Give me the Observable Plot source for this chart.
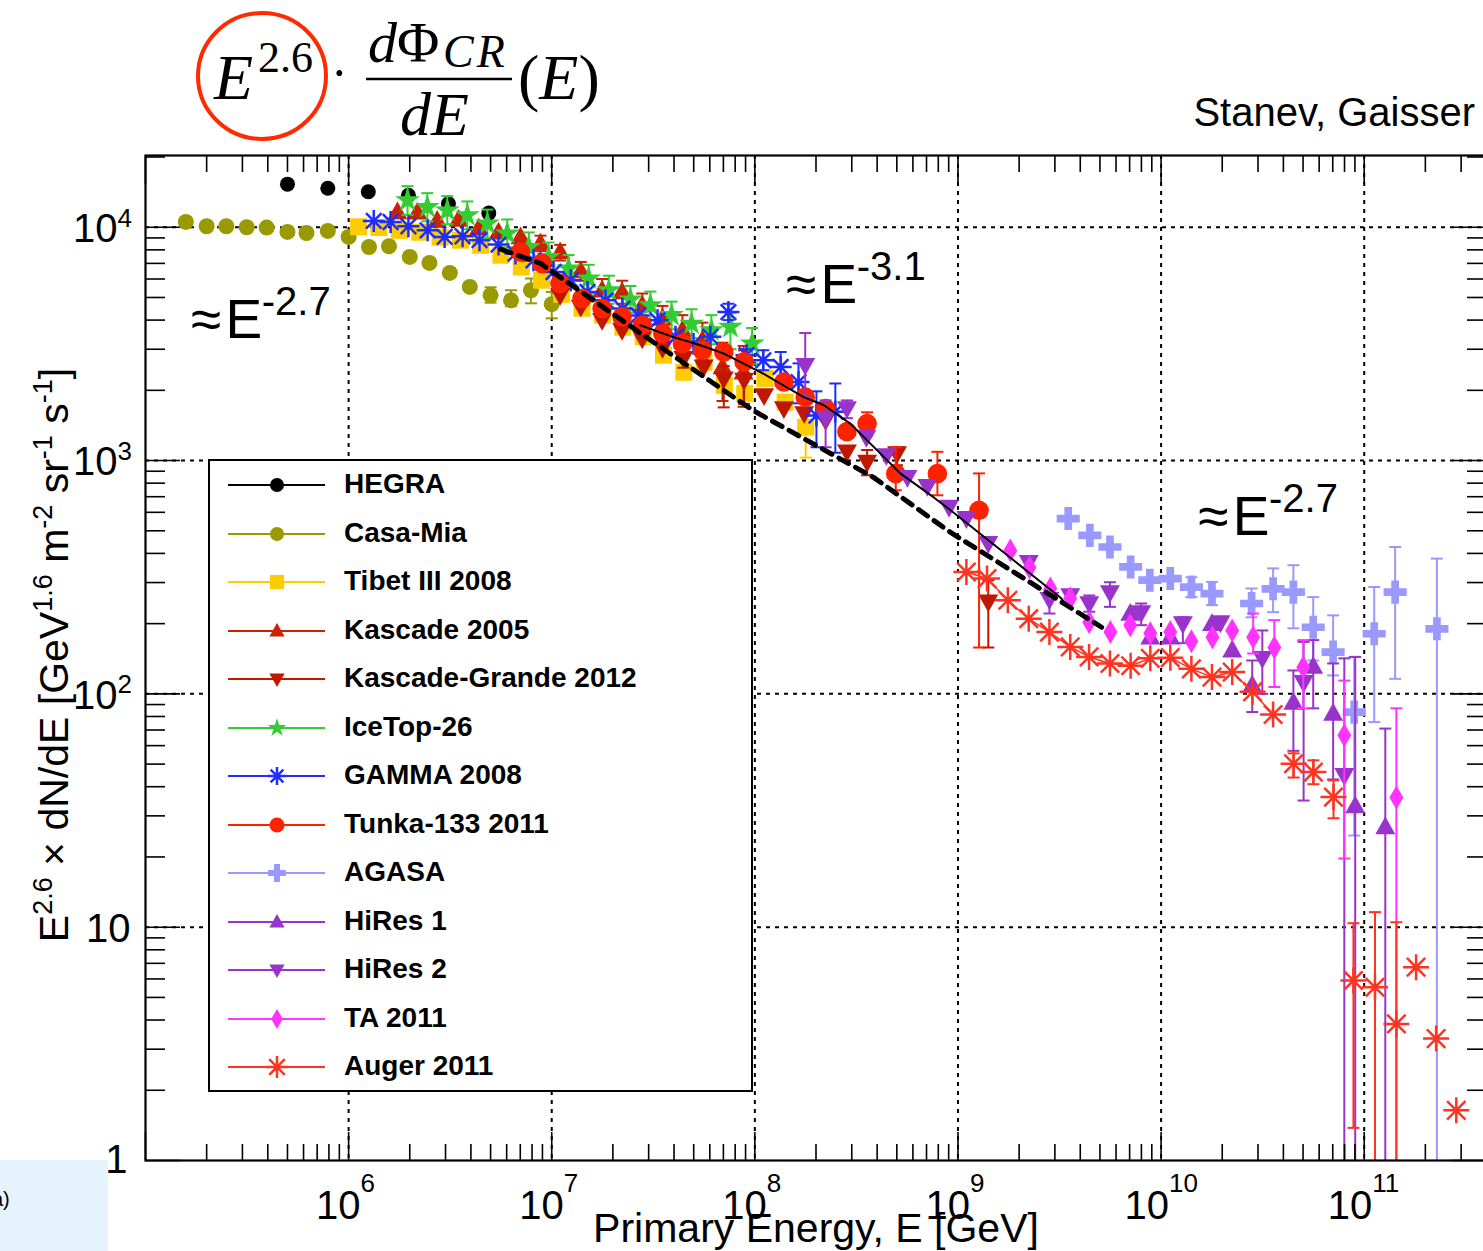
<!DOCTYPE html>
<html>
<head>
<meta charset="utf-8">
<script src="https://cdn.jsdelivr.net/npm/d3@7"></script>
<script src="https://cdn.jsdelivr.net/npm/@observablehq/plot@0.6"></script>
<style>
html, body { margin:0; padding:0; overflow:hidden; background:#fff; }
#page { position:relative; width:1483px; height:1251px; overflow:hidden; background:#fff; }
#hdr { position:absolute; left:0; top:0; }
#chart { position:absolute; left:0; top:150px; width:1500px; }
#chart svg { max-width:none !important; width:1500px; height:1101px; }
#ovl { position:absolute; left:0; top:0; pointer-events:none; }
#legend { position:absolute; left:208px; top:459px; width:545px; height:633px; box-sizing:border-box; border:2px solid #000; background:#fff; }
.lrow { position:absolute; left:0; height:30px; width:540px; }
.lrow svg { position:absolute; left:18px; top:0; }
.lrow span { position:absolute; left:134px; top:-1px; font: bold 28px "Liberation Sans", Arial, sans-serif; line-height:30px; color:#000; white-space:nowrap; }
#corner { position:absolute; left:0; top:1160px; width:108px; height:91px; background:#e4f3fc; }
#corner span { position:absolute; left:-8px; top:28px; font: 20px "Liberation Sans", Arial, sans-serif; color:#000; }
</style>
</head>
<body>
<div id="page">
  <svg id="hdr" width="1483" height="150">
    <ellipse cx="262" cy="76" rx="64" ry="63" fill="none" stroke="#ff2a00" stroke-width="4"/>
    <g font-family="'Liberation Serif', 'DejaVu Serif', serif" fill="#000">
      <text x="214" y="99" font-size="64" font-style="italic">E</text>
      <text x="258" y="72" font-size="44">2.6</text>
      <text x="331" y="90" font-size="50">·</text>
      <text x="368" y="62" font-size="58"><tspan font-style="italic">d</tspan>Φ</text>
      <text x="443" y="67" font-size="46" font-style="italic" letter-spacing="3">CR</text>
      <line x1="366" y1="79" x2="512" y2="79" stroke="#000" stroke-width="2.5"/>
      <text x="400" y="135" font-size="62" font-style="italic">dE</text>
      <text x="518" y="99" font-size="64">(<tspan font-style="italic">E</tspan>)</text>
    </g>
    <text x="1475" y="126" text-anchor="end" font-family="'Liberation Sans', Arial, sans-serif" font-size="40" fill="#000">Stanev, Gaisser</text>
  </svg>
  <div id="chart"></div>
  <svg id="ovl" width="1483" height="1251">
    <g font-family="'Liberation Sans', Arial, sans-serif" fill="#000">
      <text transform="translate(68,655) rotate(-90)" text-anchor="middle" font-size="41">E<tspan dy="-16" font-size="27">2.6</tspan><tspan dy="16">&#160;× dN/dE [GeV</tspan><tspan dy="-16" font-size="27">1.6</tspan><tspan dy="16">&#160;m</tspan><tspan dy="-16" font-size="27">-2</tspan><tspan dy="16">&#160;sr</tspan><tspan dy="-16" font-size="27">-1</tspan><tspan dy="16">&#160;s</tspan><tspan dy="-16" font-size="27">-1</tspan><tspan dy="16">]</tspan></text>
      <text x="816" y="1242" text-anchor="middle" font-size="41">Primary Energy, E [GeV]</text>
    </g>
  </svg>
  <div id="legend"></div>
  <div id="corner"><span>a)</span></div>
</div>
<script>
// ---------------- DATA (E in GeV, flux E^2.6 dN/dE, optional [lo, hi] error) ----------------
const hegra = [[5.0e5,1.53e4],[7.9e5,1.47e4],[1.25e6,1.42e4],[1.97e6,1.37e4],[3.1e6,1.26e4],[4.9e6,1.15e4]];
const casaMia = [[1.58e5,1.054e4],[2.0e5,1.01e4],[2.5e5,1.01e4],[3.15e5,1.0e4],[3.95e5,9.97e3],[5.0e5,9.55e3],[6.2e5,9.45e3],[7.9e5,9.64e3],[1.0e6,9.09e3],[1.26e6,8.23e3],[1.58e6,8.29e3],[2.0e6,7.46e3],[2.5e6,7.03e3],[3.15e6,6.37e3],[3.95e6,5.55e3],[5.0e6,5.11e3,4.75e3,5.53e3],[6.3e6,4.86e3,4.59e3,5.37e3],[7.9e6,5.37e3,4.72e3,6.03e3],[1.0e7,4.68e3,4.07e3,5.28e3]];
const tibet = [[1.12e6,1.005e4],[1.41e6,9.97e3],[1.78e6,9.7e3],[2.24e6,9.52e3],[2.82e6,9.06e3],[3.55e6,8.8e3],[4.47e6,8.37e3],[5.62e6,7.59e3],[7.08e6,6.76e3],[8.91e6,5.93e3],[1.12e7,5.16e3],[1.41e7,4.5e3],[1.78e7,4.2e3],[2.24e7,3.73e3],[2.82e7,3.39e3],[3.55e7,2.83e3],[4.47e7,2.39e3],[5.62e7,2.64e3],[7.08e7,2.1e3],[8.91e7,1.94e3],[1.12e8,2.25e3],[1.41e8,1.78e3],[1.78e8,1.39e3,1.03e3,1.55e3]];
const kascade = [[1.74e6,1.163e4],[2.18e6,1.16e4],[2.73e6,1.07e4],[3.48e6,1.08e4],[4.37e6,9.9e3],[5.47e6,9.52e3],[7.02e6,9.09e3],[8.8e6,8.54e3,7.9e3,9.2e3],[1.1e7,7.84e3,7.2e3,8.4e3],[1.39e7,6.5e3,5.9e3,7.1e3],[1.77e7,5.37e3,4.8e3,6.0e3],[2.22e7,5.28e3,4.7e3,5.9e3],[2.79e7,4.63e3,4.1e3,5.2e3],[3.51e7,4.07e3,3.6e3,4.6e3],[4.4e7,3.62e3,3.1e3,4.2e3],[5.52e7,3.28e3,2.7e3,3.9e3],[6.93e7,2.52e3,1.8e3,3.2e3],[8.8e7,2.39e3,1.7e3,3.1e3]];
const kascadeGrande = [[1.1e7,5.11e3],[1.39e7,4.55e3],[1.77e7,3.99e3],[2.22e7,3.62e3],[2.79e7,3.33e3],[3.51e7,3.03e3],[4.45e7,2.74e3,2.5e3,3.0e3],[5.6e7,2.52e3],[7.03e7,2.24e3,1.69e3,2.54e3],[8.85e7,2.21e3,1.75e3,2.97e3],[1.11e8,1.9e3],[1.39e8,1.67e3],[1.75e8,1.59e3],[2.23e8,1.49e3],[2.84e8,1.09e3],[3.57e8,986,865,1.11e3],[5.01e8,1.07e3,955,1.14e3],[1.41e9,248,158,307]];
const iceTop = [[1.95e6,1.305e4,1.13e4,1.5e4],[2.44e6,1.22e4,1.06e4,1.4e4],[3.06e6,1.18e4,1.03e4,1.36e4],[3.84e6,1.126e4,9.8e3,1.29e4],[4.82e6,1.037e4,9.0e3,1.19e4],[6.04e6,9.4e3,8.2e3,1.08e4],[7.71e6,8.23e3,7.2e3,9.5e3],[9.64e6,7.46e3,6.5e3,8.6e3],[1.21e7,6.65e3,5.8e3,7.6e3],[1.52e7,6.03e3,5.2e3,6.9e3],[1.91e7,5.37e3,4.7e3,6.2e3],[2.44e7,4.9e3,4.3e3,5.6e3],[3.06e7,4.63e3,4.0e3,5.3e3],[3.89e7,4.2e3,3.65e3,4.8e3],[4.88e7,3.86e3,3.35e3,4.45e3],[6.11e7,3.62e3,3.15e3,4.2e3],[7.58e7,3.74e3,3.0e3,4.3e3],[9.7e7,3.17e3,2.6e3,3.7e3]];
const gamma = [[1.33e6,1.064e4],[1.61e6,1.053e4],[1.97e6,1.01e4],[2.45e6,9.7e3],[2.97e6,9.09e3],[3.64e6,9.15e3],[4.41e6,8.8e3],[5.47e6,8.43e3],[6.63e6,7.71e3],[8.13e6,7.22e3],[1.02e7,6.43e3],[1.24e7,5.93e3],[1.5e7,5.28e3],[1.84e7,4.86e3],[2.23e7,4.48e3],[2.67e7,4.19e3],[3.32e7,3.99e3],[4.07e7,3.39e3],[4.99e7,3.17e3],[6.04e7,3.39e3],[7.41e7,4.33e3,4.0e3,4.7e3],[9.1e7,2.83e3,2.65e3,3.0e3],[1.10e8,2.69e3,2.44e3,2.97e3],[1.34e8,2.52e3,2.1e3,2.92e3],[1.64e8,2.17e3,1.76e3,2.61e3],[2.01e8,1.56e3,1.14e3,1.98e3],[2.49e8,1.62e3,1.08e3,2.14e3]];
const tunka = [[7.02e6,7.84e3],[8.97e6,6.99e3],[1.1e7,5.74e3],[1.41e7,4.95e3],[1.77e7,4.48e3],[2.22e7,4.13e3],[2.79e7,3.8e3],[3.52e7,3.5e3],[4.4e7,3.17e3],[5.52e7,2.97e3],[7.03e7,2.92e3],[8.85e7,2.65e3],[1.39e8,2.17e3],[1.77e8,1.87e3],[2.23e8,1.67e3],[2.84e8,1.33e3],[3.57e8,1.44e3,1.28e3,1.61e3],[4.94e8,879,746,1.14e3],[7.92e8,879,710,1.09e3],[1.27e9,612,158,881]];
const agasa = [[3.49e9,564],[4.46e9,478],[5.6e9,426],[7.08e9,350],[8.8e9,307],[1.11e10,312],[1.41e10,287,260,316],[1.78e10,269,240,302],[2.79e10,244,213,283],[3.56e10,282,224,345],[4.48e10,273,191,356],[5.61e10,193,139,260],[7.03e10,151,120,217],[8.93e10,83.5,24.7,144],[1.12e11,181,75.7,287],[1.42e11,273,116,426],[2.28e11,190,0.5,380]];
const hires1 = [[7.05e9,221],[8.85e9,175],[1.11e10,175],[1.78e10,200],[2.24e10,154],[2.81e10,109,83.6,139],[4.48e10,92,57,126],[5.61e10,131,86.7,170],[7.03e10,82.5,43,135],[9.03e10,33.1,0.5,144],[1.27e11,26.9,0.5,71]];
const hires2 = [[1.77e8,2.56e3,1.87e3,3.52e3],[2.23e8,1.52e3,1.14e3,1.81e3],[2.84e8,1.67e3,1.52e3,1.81e3],[3.54e8,1.26e3],[4.44e8,1.05e3],[5.64e8,848],[7.07e8,776],[9.04e8,631],[1.1e9,565],[1.41e9,442],[2.23e9,366],[2.82e9,254,221,278],[3.57e9,264],[4.43e9,244,225,264],[5.6e9,272,236,301],[7.98e9,223,197,244],[1.28e10,200,165,213],[1.96e10,202],[3.15e10,142,100,187],[5.03e10,112,34.9,167],[7.98e10,44.7,0.5,142]];
const ta = [[1.81e9,412],[2.25e9,348],[2.85e9,283],[3.57e9,257],[4.43e9,203],[5.63e9,184],[7.05e9,197],[8.85e9,182],[1.11e10,184],[1.41e10,168],[1.79e10,175],[2.24e10,187],[2.84e10,175,149,221],[3.61e10,158,107,207],[5.01e10,130,86.7,170],[7.98e10,66.4,19.7,114],[1.44e11,36,0.5,86.7]];
const auger = [[1.1e9,333],[1.39e9,312],[1.76e9,252],[2.23e9,210],[2.82e9,184],[3.57e9,159],[4.42e9,144],[5.6e9,135],[7.08e9,132],[8.85e9,142],[1.11e10,143],[1.41e10,128],[1.78e10,118],[2.24e10,124],[2.82e10,102],[3.56e10,81.6],[4.49e10,50.2,43.8,55.6],[5.62e10,46.2,41,51.9],[7.06e10,36.1,29.3,42.6],[8.85e10,5.91,1.38,10.4],[1.13e11,5.53,0.5,11.6],[1.44e11,3.85,0.5,10.5],[1.8e11,6.74],[2.26e11,3.33],[2.84e11,1.64]];
const kneeFitSolid = [[2.73e7,3.8e3],[3.97e7,3.38e3],[5.4e7,3.12e3],[7.0e7,2.88e3],[1.07e8,2.39e3],[1.74e8,1.87e3],[2.18e8,1.73e3],[2.95e8,1.44e3],[5.2e8,881],[7.6e8,695],[9.2e8,612],[3.19e9,259],[3.45e9,239]];
const kneeFitDashed = [[5.6e6,8.05e3],[8.8e6,7.0e3],[2.74e7,3.51e3],[9.8e7,1.64e3],[3.84e8,847],[9.2e8,492],[5.1e9,193]];

const seriesNames = ["HEGRA","Casa-Mia","Tibet III 2008","Kascade 2005","Kascade-Grande 2012","IceTop-26","GAMMA 2008","Tunka-133 2011","AGASA","HiRes 1","HiRes 2","TA 2011","Auger 2011"];
const seriesData = [hegra, casaMia, tibet, kascade, kascadeGrande, iceTop, gamma, tunka, agasa, hires1, hires2, ta, auger];
const augerLinePoints = 16;

const xTickLabels = [{E:1e6,exp:"6"},{E:1e7,exp:"7"},{E:1e8,exp:"8"},{E:1e9,exp:"9"},{E:1e10,exp:"10"},{E:1e11,exp:"11"}];
const yTickLabels = [{v:1e4,base:"10",exp:"4"},{v:1e3,base:"10",exp:"3"},{v:1e2,base:"10",exp:"2"},{v:10,base:"10",exp:""},{v:1,base:"1",exp:""}];
const annotations = [{E:1.67e5,v:3.99e3,exp:"-2.7"},{E:1.42e8,v:5.64e3,exp:"-3.1"},{E:1.52e10,v:571,exp:"-2.7"}];

// ---------------- STYLE ----------------
const X0 = 1e5, X1 = 4e11, Y0 = 1, Y1 = 2.03e4;
const triUp = {draw(ctx,size){const r=Math.sqrt(size/Math.PI); ctx.moveTo(0,-r); ctx.lineTo(0.95*r,0.7*r); ctx.lineTo(-0.95*r,0.7*r); ctx.closePath();}};
const triDown = {draw(ctx,size){const r=Math.sqrt(size/Math.PI); ctx.moveTo(0,r); ctx.lineTo(0.95*r,-0.7*r); ctx.lineTo(-0.95*r,-0.7*r); ctx.closePath();}};
const diamondTall = {draw(ctx,size){const r=Math.sqrt(size/Math.PI); ctx.moveTo(0,-r); ctx.lineTo(0.58*r,0); ctx.lineTo(0,r); ctx.lineTo(-0.58*r,0); ctx.closePath();}};
const asterisk8 = {draw(ctx,size){const r=Math.sqrt(size/Math.PI); for (const a of [0,45,90,135]){const t=a*Math.PI/180, c=Math.cos(t)*r, s=Math.sin(t)*r; ctx.moveTo(c,s); ctx.lineTo(-c,-s);}}};
const capSym = {draw(ctx,size){const r=Math.sqrt(size/Math.PI); ctx.moveTo(-r,0); ctx.lineTo(r,0);}};

const seriesColors = ["#000000","#999900","#ffcc00","#cc2200","#c01800","#33cc33","#1f2eff","#ff2200","#9999ff","#9933cc","#9933cc","#ff33ff","#ff3322"];
const seriesSymbols = ["circle","circle","square",triUp,triDown,"star",asterisk8,"circle","cross",triUp,triDown,diamondTall,asterisk8];
const seriesRadii = [7.5,8,9.6,10.5,10.5,7.8,11,9.8,9.7,10.5,10.5,12,13];
const legendRadii = [7,7,8,8,8,5.8,9,7.5,7.5,8,8,10,11];

const X = d => d[0], Y = d => d[1];
const marks = [
  Plot.gridX({ticks:[1e6,1e7,1e8,1e9,1e10,1e11], stroke:"#000", strokeOpacity:1, strokeWidth:2, strokeDasharray:"4,5"}),
  Plot.gridY({ticks:[10,100,1e3,1e4], stroke:"#000", strokeOpacity:1, strokeWidth:2, strokeDasharray:"4,5"})
];

seriesData.forEach((data, i) => {
  const c = seriesColors[i], sym = seriesSymbols[i];
  const withErr = data.filter(d => d.length === 4);
  if (withErr.length) {
    marks.push(Plot.ruleX(withErr, {x:X, y1:d=>d[2], y2:d=>d[3], stroke:c, strokeWidth:2, clip:true}));
    const caps = withErr.flatMap(d => d[2] >= Y0 ? [[d[0],d[3]],[d[0],d[2]]] : [[d[0],d[3]]]);
    marks.push(Plot.dot(caps, {x:X, y:Y, symbol:capSym, r:6, stroke:c, strokeWidth:2, fill:"none"}));
  }
  if (data === auger) marks.push(Plot.line(data.slice(0, augerLinePoints), {x:X, y:Y, stroke:c, strokeWidth:1.5}));
  const hollow = sym === asterisk8;
  marks.push(Plot.dot(data, {x:X, y:Y, symbol:sym, r:seriesRadii[i], fill: hollow ? "none" : c, stroke: hollow ? c : "none", strokeWidth: hollow ? 2.5 : 0}));
});

marks.push(
  Plot.line(kneeFitDashed, {x:X, y:Y, stroke:"#000", strokeWidth:5, strokeDasharray:"11,8"}),
  Plot.line(kneeFitSolid, {x:X, y:Y, stroke:"#000", strokeWidth:2})
);

const xMajor = [1e5,1e6,1e7,1e8,1e9,1e10,1e11];
const xMinor = []; for (let k = 5; k <= 11; k++) for (let m = 2; m <= 9; m++) if (m * 10 ** k < X1) xMinor.push(m * 10 ** k);
const yMajor = [1,10,100,1e3,1e4];
const yMinor = []; for (let k = 0; k <= 4; k++) for (let m = 2; m <= 9; m++) if (m * 10 ** k < Y1) yMinor.push(m * 10 ** k);
const noText = () => "";
for (const anchor of ["bottom","top"]) {
  marks.push(Plot.axisX({anchor, ticks:xMajor, tickSize:-28, tickFormat:noText, label:null, strokeWidth:1.6}));
  marks.push(Plot.axisX({anchor, ticks:xMinor, tickSize:-16, tickFormat:noText, label:null, strokeWidth:1.6}));
}
for (const anchor of ["left","right"]) {
  marks.push(Plot.axisY({anchor, ticks:yMajor, tickSize:-35, tickFormat:noText, label:null, strokeWidth:1.6}));
  marks.push(Plot.axisY({anchor, ticks:yMinor, tickSize:-20, tickFormat:noText, label:null, strokeWidth:1.6}));
}
marks.push(Plot.frame({stroke:"#000", strokeWidth:2.2}));

// tick labels
const x1d = xTickLabels.filter(d => d.exp.length === 1), x2d = xTickLabels.filter(d => d.exp.length === 2);
for (const [set, off] of [[x1d, 12], [x2d, 8]]) {
  marks.push(Plot.text(set, {x:"E", frameAnchor:"bottom", text:()=>"10", textAnchor:"end", lineAnchor:"bottom", dx:off, dy:58, fontSize:40, fill:"#000"}));
  marks.push(Plot.text(set, {x:"E", frameAnchor:"bottom", text:"exp", textAnchor:"start", lineAnchor:"bottom", dx:off, dy:31, fontSize:26, fill:"#000"}));
}
const yExp = yTickLabels.filter(d => d.exp);
marks.push(
  Plot.text(yExp, {y:"v", frameAnchor:"left", text:"base", textAnchor:"end", lineAnchor:"middle", dx:-28, dy:2, fontSize:40, fill:"#000"}),
  Plot.text(yExp, {y:"v", frameAnchor:"left", text:"exp", textAnchor:"start", lineAnchor:"middle", dx:-28, dy:-9, fontSize:26, fill:"#000"}),
  Plot.text(yTickLabels.filter(d => !d.exp && d.base === "10"), {y:"v", frameAnchor:"left", text:"base", textAnchor:"end", lineAnchor:"middle", dx:-15, dy:2, fontSize:40, fill:"#000"}),
  Plot.text(yTickLabels.filter(d => d.base === "1"), {y:"v", frameAnchor:"left", text:"base", textAnchor:"end", lineAnchor:"middle", dx:-18, dy:0, fontSize:40, fill:"#000"})
);
// annotations
marks.push(
  Plot.text(annotations, {x:"E", y:"v", text:()=>"≈\u200AE", textAnchor:"start", lineAnchor:"middle", fontSize:55, fontWeight:300, fill:"#000"}),
  Plot.text(annotations, {x:"E", y:"v", text:"exp", textAnchor:"start", lineAnchor:"middle", dx:71, dy:-18, fontSize:40, fontWeight:300, fill:"#000"})
);

const chart = Plot.plot({
  width: 1500, height: 1101,
  marginLeft: 145, marginRight: 14, marginTop: 5, marginBottom: 91,
  x: {type:"log", domain:[X0, X1], label:null},
  y: {type:"log", domain:[Y0, Y1], label:null},
  style: {fontFamily:"'Liberation Sans', Arial, sans-serif", background:"transparent", color:"#000", overflow:"visible", maxWidth:"none"},
  marks
});
document.getElementById("chart").appendChild(chart);

// legend
const legendEl = document.getElementById("legend");
const builtin = {circle:d3.symbolCircle, square:d3.symbolSquare, star:d3.symbolStar, cross:d3.symbolCross};
seriesNames.forEach((name, i) => {
  const row = document.createElement("div");
  row.className = "lrow";
  row.style.top = (9 + 48.5 * i) + "px";
  const c = seriesColors[i], sym = seriesSymbols[i];
  const type = typeof sym === "string" ? builtin[sym] : sym;
  const rr = legendRadii[i];
  const path = d3.symbol(type, Math.PI * rr * rr)();
  const hollow = sym === asterisk8;
  row.innerHTML = `<svg width="100" height="30"><line x1="0" y1="15" x2="97" y2="15" stroke="${c}" stroke-width="2"/><path transform="translate(49,15)" d="${path}" fill="${hollow ? "none" : c}" stroke="${hollow ? c : "none"}" stroke-width="2.5"/></svg><span>${name}</span>`;
  legendEl.appendChild(row);
});
</script>
</body>
</html>
